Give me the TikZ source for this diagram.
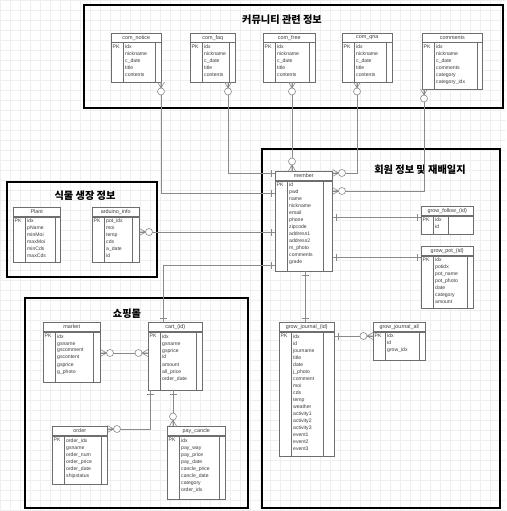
\documentclass[tikz,border=0pt]{standalone}
\usepackage{fontspec}
\setmainfont{Liberation Sans}
\newfontfamily\krfont{Noto Sans CJK KR}
\usetikzlibrary{calc}
\definecolor{tabgray}{HTML}{6E6E6E}
\definecolor{congray}{HTML}{8A8A8A}
\definecolor{txtgray}{HTML}{3A3A3A}
\definecolor{gridc}{HTML}{EFEFEF}

\tikzset{
  tabhead/.style={draw=tabgray, line width=0.5pt, fill=white, inner sep=0pt,
    minimum height=9pt, font=\fontsize{5.4}{6}\selectfont, text=txtgray},
  tabbody/.style={draw=tabgray, line width=0.5pt, fill=white, inner sep=0pt},
  tabline/.style={draw=tabgray, line width=0.5pt},
  fieldtext/.style={inner sep=0pt, align=left, font=\fontsize{5.1}{7}\selectfont, text=txtgray},
  con/.style={draw=congray, line width=0.6pt},
  groupbox/.style={draw=black, line width=2.6pt},
  grouptitle/.style={font=\krfont\bfseries\fontsize{10.2}{12}\selectfont},
  zm/.pic={\draw[con] (0,-3.5)--(6,0)--(0,3.5) (0,0)--(6,0);
           \draw[con,fill=white] (9.5,0) circle[radius=3.5pt];},
  onetick/.pic={\draw[con] (4,-3.5)--(4,3.5);},
}

% entity table: name, left x, top y, width, body height, title, fields, right column width
\newcommand\ertab[8]{%
  \node[tabhead, minimum width=#4pt, anchor=north west] (#1) at (#2,#3) {#6};
  \node[tabbody, minimum width=#4pt, minimum height=#5pt, anchor=north west] (#1-b) at (#1.south west) {};
  \draw[tabline] ([xshift=12pt]#1-b.north west) -- ([xshift=12pt]#1-b.south west);
  \draw[tabline] ([xshift=-#8pt]#1-b.north east) -- ([xshift=-#8pt]#1-b.south east);
  \node[fieldtext, anchor=north west] (#1-pk) at ([xshift=1.5pt,yshift=-2.6pt]#1-b.north west) {PK};
  \node[fieldtext, anchor=north west] (#1-f) at ([xshift=14pt,yshift=-2.6pt]#1-b.north west) {#7};
}

\begin{document}
\begin{tikzpicture}[x=1pt,y=-1pt]
\useasboundingbox (0,0) rectangle (506,511);
\fill[white] (0,0) rectangle (506,511);

% background grid
\foreach \g in {0,10,...,500} {\draw[gridc, line width=0.3pt] (\g,0) -- (\g,511);}
\foreach \g in {0,10,...,510} {\draw[gridc, line width=0.3pt] (0,\g) -- (506,\g);}

% group frames
\draw[groupbox] (84,5) rectangle (503,108);
\draw[groupbox] (7,182) rectangle (157,277);
\draw[groupbox] (262,149) rectangle (500,508);
\draw[groupbox] (25,298) rectangle (248,508);

\node[grouptitle] (tcomm) at (282,20) {커뮤니티 관련 정보};
\node[grouptitle] (tplant) at (85,196) {식물 생장 정보};
\node[grouptitle] (tmember) at (420,170) {회원 정보 및 재배일지};
\node[grouptitle] (tshop) at (127,314) {쇼핑몰};

% community tables
\ertab{comnotice}{111}{33}{50}{39}{com\_notice}{idx\\nickname\\c\_date\\title\\contents}{6}
\ertab{comfaq}{190}{33}{45}{39}{com\_faq}{idx\\nickname\\c\_date\\title\\contents}{6}
\ertab{comfree}{263}{33}{52}{39}{com\_free}{idx\\nickname\\c\_date\\title\\contents}{6}
\ertab{comqna}{342}{33}{50}{39}{com\_qna}{idx\\nickname\\c\_date\\title\\contents}{6}
\ertab{comments}{422}{33}{60}{46}{comments}{idx\\nickname\\c\_date\\comments\\category\\category\_idx}{5}

% member and growing journal tables
\ertab{member}{275}{171}{57}{90}{member}{id\\pwd\\name\\nickname\\email\\phone\\zipcode\\address1\\address2\\m\_photo\\comments\\grade}{9}
\ertab{growfollow}{421}{206}{52}{18}{grow\_follow\_(id)}{idx\\id}{25}
\ertab{growpot}{421}{246}{52}{52}{grow\_pot\_(id)}{idx\\potidx\\pot\_name\\pot\_photo\\date\\category\\amount}{6}
\ertab{growjournal}{279}{322}{55}{124}{grow\_journal\_(id)}{idx\\id\\journame\\title\\date\\j\_photo\\comment\\moi\\cds\\temp\\weather\\activity1\\activity2\\activity3\\event1\\event2\\event3}{11}
\ertab{growjournalall}{373}{322}{52}{28}{grow\_journal\_all}{idx\\id\\grow\_idx}{6}

% plant tables
\ertab{plant}{13}{207}{47}{45}{Plant}{idx\\pName\\minMoi\\maxMoi\\minCds\\maxCds}{5}
\ertab{arduino}{92}{207}{47}{45}{arduino\_info}{pot\_idx\\moi\\temp\\cds\\a\_date\\id}{7}

% shop tables
\ertab{market}{43}{322}{57}{50}{market}{idx\\gsname\\gscomment\\gscontent\\gsprice\\g\_photo}{7}
\ertab{cart}{148}{322}{54}{58}{cart\_(id)}{idx\\gsname\\gsprice\\id\\amount\\all\_price\\order\_date}{6}
\ertab{order}{52}{426}{55}{48}{order}{order\_idx\\gsname\\order\_num\\order\_price\\order\_date\\shipstatus}{6}
\ertab{paycancle}{167}{426}{58}{63}{pay\_cancle}{idx\\pay\_way\\pay\_price\\pay\_date\\cancle\_price\\cancle\_date\\category\\order\_idx}{6}

% relationship lines
\draw[con] (comnotice-b.south -| 161,0) |- (member-b.west |- 0,193);
\draw[con] (comfaq-b.south -| 228,0) |- (member.west |- 0,173);
\draw[con] (comfree-b.south -| 292,0) -- (member.north -| 292,0);
\draw[con] (comqna-b.south -| 357,0) |- (member.east |- 0,173);
\draw[con] (comments-b.south -| 424,0) |- (member-b.east |- 0,191);
\draw[con] (arduino-b.east |- 0,232) -- (member-b.west |- 0,232);
\draw[con] (cart.north -| 163,0) |- (member-b.west |- 0,265);
\draw[con] (member-b.east |- 0,217) -- (growfollow-b.west |- 0,217);
\draw[con] (member-b.east |- 0,257) -- (growpot-b.west |- 0,257);
\draw[con] (member-b.south -| 305,0) -- (growjournal.north -| 305,0);
\draw[con] (growjournalall-b.west |- 0,336) -- (growjournal-b.east |- 0,336);
\draw[con] (market-b.east |- 0,353) -- (cart-b.west |- 0,353);
\draw[con] (order.east |- 0,429) -| (cart-b.south -| 150,0);
\draw[con] (cart-b.south -| 173,0) -- (paycancle.north -| 173,0);

% relationship ends
\path (comnotice-b.south -| 161,0) pic[rotate=-90]{zm};
\path (member-b.west |- 0,193) pic[rotate=180]{onetick};
\path (comfaq-b.south -| 228,0) pic[rotate=-90]{zm};
\path (member.west |- 0,173) pic[rotate=180]{onetick};
\path (comfree-b.south -| 292,0) pic[rotate=-90]{zm};
\path (member.north -| 292,0) pic[rotate=90]{zm};
\path (comqna-b.south -| 357,0) pic[rotate=-90]{zm};
\path (member.east |- 0,173) pic{zm};
\path (comments-b.south -| 424,0) pic[rotate=-90]{zm};
\path (member-b.east |- 0,191) pic{zm};
\path (arduino-b.east |- 0,232) pic{zm};
\path (member-b.west |- 0,232) pic[rotate=180]{onetick};
\path (cart.north -| 163,0) pic[rotate=90]{onetick};
\path (member-b.west |- 0,265) pic[rotate=180]{onetick};
\path (member-b.east |- 0,217) pic{onetick};
\path (growfollow-b.west |- 0,217) pic[rotate=180]{onetick};
\path (member-b.east |- 0,257) pic{onetick};
\path (growpot-b.west |- 0,257) pic[rotate=180]{onetick};
\path (member-b.south -| 305,0) pic[rotate=-90]{onetick};
\path (growjournal.north -| 305,0) pic[rotate=90]{onetick};
\path (growjournalall-b.west |- 0,336) pic[rotate=180]{zm};
\path (growjournal-b.east |- 0,336) pic{onetick};
\path (market-b.east |- 0,353) pic{zm};
\path (cart-b.west |- 0,353) pic[rotate=180]{zm};
\path (order.east |- 0,429) pic{zm};
\path (cart-b.south -| 150,0) pic[rotate=-90]{onetick};
\path (cart-b.south -| 173,0) pic[rotate=-90]{onetick};
\path (paycancle.north -| 173,0) pic[rotate=90]{zm};
\end{tikzpicture}
\end{document}
